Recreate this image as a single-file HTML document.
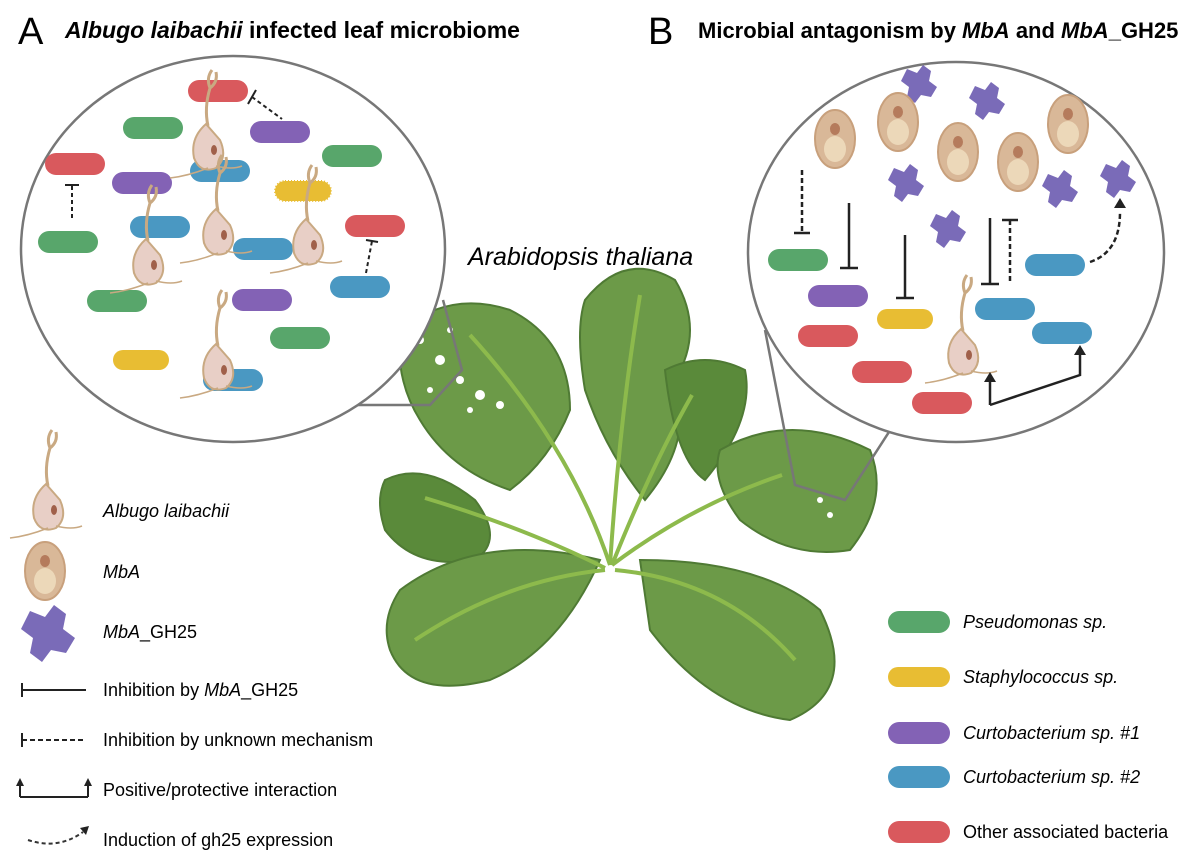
<!DOCTYPE html>
<html><head><meta charset="utf-8"><style>
body{margin:0;background:#fff;width:1200px;height:866px;overflow:hidden;font-family:"Liberation Sans",sans-serif}
svg{position:absolute;left:0;top:0}
</style></head><body>
<svg width="1200" height="866" viewBox="0 0 1200 866" xmlns="http://www.w3.org/2000/svg" font-family="Liberation Sans, sans-serif">
<defs>
<g id="bac"><rect x="0" y="0" width="60" height="22" rx="11" /></g>
<g id="alb">
<path d="M0,-62 q-4,-10 2,-18 M0,-62 q8,-6 6,-16 M0,-62 q-6,20 -2,38" stroke="#c9a982" stroke-width="3" fill="none"/>
<path d="M-4,-26 q-16,14 -12,34 q6,16 22,10 q12,-10 4,-28 z" fill="#e8cfc6" stroke="#c9a982" stroke-width="2"/>
<ellipse cx="4" cy="0" rx="3" ry="5" fill="#a0604a"/>
<path d="M-2,18 q-20,8 -38,10 M6,16 q16,4 26,0" stroke="#c9a982" stroke-width="1.5" fill="none"/>
</g>
<g id="mba"><ellipse cx="0" cy="0" rx="20" ry="29" fill="#d9b898" stroke="#c8a07c" stroke-width="2"/><ellipse cx="0" cy="10" rx="11" ry="13" fill="#ecd8b9"/><ellipse cx="0" cy="-10" rx="5" ry="6" fill="#b57b5c"/></g>
<g id="gh"><path d="M-12,-14 l10,4 l6,-8 l8,6 l-2,10 l8,6 l-6,10 l-10,-2 l-6,8 l-8,-6 l2,-10 l-8,-6 z" fill="#7a6bb8"/></g>
</defs>

<!-- titles -->
<text x="18" y="44" font-size="38">A</text>
<text x="65" y="38" font-size="23" font-weight="bold"><tspan font-style="italic">Albugo laibachii</tspan> infected leaf microbiome</text>
<text x="648" y="44" font-size="38">B</text>
<text x="698" y="38" font-size="22" font-weight="bold">Microbial antagonism by <tspan font-style="italic">MbA</tspan> and <tspan font-style="italic">MbA</tspan>_GH25</text>
<text x="468" y="265" font-size="25" font-style="italic">Arabidopsis thaliana</text>

<!-- plant -->
<g fill="#6c9a48" stroke="#4f7a34" stroke-width="2">
<path d="M400,330 q50,-40 110,-20 q60,30 60,100 q-20,50 -60,80 q-60,-20 -90,-70 q-25,-40 -20,-90 z"/>
<path d="M585,300 q40,-50 90,-20 q30,50 0,100 q20,60 -30,120 q-40,-50 -60,-110 q-10,-60 0,-90 z"/>
<path d="M665,370 q40,-20 80,0 q10,50 -40,110 q-30,-20 -40,-110 z" fill="#5a8a3a"/>
<path d="M720,450 q70,-40 150,0 q20,50 -20,100 q-60,10 -110,-30 q-30,-40 -20,-70 z"/>
<path d="M385,480 q40,-20 90,20 q30,40 0,60 q-60,10 -90,-30 q-10,-30 0,-50 z" fill="#5a8a3a"/>
<path d="M400,590 q80,-60 200,-30 q-40,90 -110,120 q-80,20 -100,-30 q-10,-30 10,-60 z"/>
<path d="M640,560 q120,0 180,50 q40,80 -30,110 q-80,-10 -140,-90 z"/>
</g>
<g stroke="#8dba4c" stroke-width="4" fill="none">
<path d="M610,565 q-40,-120 -140,-230"/><path d="M610,565 q10,-150 30,-270"/><path d="M612,565 q40,-100 80,-170"/>
<path d="M612,565 q80,-60 170,-90"/><path d="M605,568 q-80,-40 -180,-70"/><path d="M605,570 q-100,10 -190,70"/><path d="M615,570 q110,10 180,90"/>
</g>
<g fill="#fff"><circle cx="420" cy="340" r="4"/><circle cx="440" cy="360" r="5"/><circle cx="460" cy="380" r="4"/><circle cx="480" cy="395" r="5"/><circle cx="500" cy="405" r="4"/><circle cx="430" cy="390" r="3"/><circle cx="470" cy="410" r="3"/><circle cx="450" cy="330" r="3"/><circle cx="820" cy="500" r="3"/><circle cx="830" cy="515" r="3"/></g>

<!-- zoom lines -->
<g stroke="#777" stroke-width="2.5" fill="none">
<path d="M330,405 L430,405 L462,370 L443,300"/>
<path d="M765,330 L795,485 L845,500 L900,415"/>
</g>

<!-- circle A -->
<ellipse cx="233" cy="249" rx="212" ry="193" fill="#fff" stroke="#777" stroke-width="2.5"/>
<g>
<use href="#bac" x="188" y="80" fill="#d9595d"/>
<use href="#bac" x="123" y="117" fill="#58a66b"/>
<use href="#bac" x="250" y="121" fill="#8362b5"/>
<use href="#bac" x="322" y="145" fill="#58a66b"/>
<use href="#bac" x="45" y="153" fill="#d9595d"/>
<use href="#bac" x="190" y="160" fill="#4a98c2"/>
<use href="#bac" x="112" y="172" fill="#8362b5"/>
<use href="#bac" x="130" y="216" fill="#4a98c2"/>
<use href="#bac" x="38" y="231" fill="#58a66b"/>
<use href="#bac" x="233" y="238" fill="#4a98c2"/>
<use href="#bac" x="345" y="215" fill="#d9595d"/>
<use href="#bac" x="330" y="276" fill="#4a98c2"/>
<use href="#bac" x="87" y="290" fill="#58a66b"/>
<use href="#bac" x="232" y="289" fill="#8362b5"/>
<use href="#bac" x="270" y="327" fill="#58a66b"/>
<use href="#bac" x="203" y="369" fill="#4a98c2"/>
<rect x="275" y="181" width="56" height="20" rx="10" fill="#e8bd33" stroke="#e8bd33" stroke-width="2" stroke-dasharray="1 2"/>
<rect x="113" y="350" width="56" height="20" rx="10" fill="#e8bd33"/>
<use href="#alb" x="210" y="150"/><use href="#alb" x="150" y="265"/><use href="#alb" x="220" y="235"/><use href="#alb" x="310" y="245"/><use href="#alb" x="220" y="370"/>
</g>
<g stroke="#222" stroke-width="2" fill="none">
<path d="M72,186 v35" stroke-dasharray="4 3"/><path d="M65,185 h14"/>
<path d="M252,97 l30,22" stroke-dasharray="4 3"/><path d="M248,104 l8,-14"/>
<path d="M366,273 l6,-32" stroke-dasharray="4 3"/><path d="M366,240 l12,2"/>
</g>

<!-- circle B -->
<ellipse cx="956" cy="252" rx="208" ry="190" fill="#fff" stroke="#777" stroke-width="2.5"/>
<use href="#gh" x="919" y="83"/><use href="#gh" x="987" y="100"/><use href="#gh" x="906" y="182"/><use href="#gh" x="1060" y="188"/><use href="#gh" x="1118" y="178"/><use href="#gh" x="948" y="228"/>
<use href="#mba" x="835" y="139"/><use href="#mba" x="898" y="122"/><use href="#mba" x="958" y="152"/><use href="#mba" x="1018" y="162"/><use href="#mba" x="1068" y="124"/>
<use href="#bac" x="768" y="249" fill="#58a66b"/>
<use href="#bac" x="808" y="285" fill="#8362b5"/>
<use href="#bac" x="798" y="325" fill="#d9595d"/>
<use href="#bac" x="852" y="361" fill="#d9595d"/>
<use href="#bac" x="912" y="392" fill="#d9595d"/>
<use href="#bac" x="975" y="298" fill="#4a98c2"/>
<use href="#bac" x="1032" y="322" fill="#4a98c2"/>
<use href="#bac" x="1025" y="254" fill="#4a98c2"/>
<rect x="877" y="309" width="56" height="20" rx="10" fill="#e8bd33"/>
<use href="#alb" x="965" y="355"/>
<g stroke="#222" stroke-width="2.5" fill="none">
<path d="M802,170 v62" stroke-dasharray="5 3"/><path d="M794,233 h16"/>
<path d="M849,203 v65"/><path d="M840,268 h18"/>
<path d="M905,235 v63"/><path d="M896,298 h18"/>
<path d="M990,218 v65"/><path d="M981,284 h18"/>
<path d="M1010,220 v62" stroke-dasharray="5 3"/><path d="M1002,220 h16"/>
<path d="M1090,262 q30,-10 30,-50" stroke-dasharray="5 3"/>
<path d="M990,405 l90,-30 v-20"/><path d="M990,405 v-25"/>
</g>
<path d="M1114,208 l6,-10 l6,10z M1074,355 l6,-10 l6,10z M984,382 l6,-10 l6,10z" fill="#222"/>

<!-- left legend -->
<use href="#alb" x="50" y="510"/>
<text x="103" y="517" font-size="18" font-style="italic">Albugo laibachii</text>
<use href="#mba" x="45" y="571"/>
<text x="103" y="578" font-size="18" font-style="italic">MbA</text>
<use href="#gh" x="48" y="632" transform="translate(48,632) scale(1.5) translate(-48,-632)"/>
<text x="103" y="638" font-size="18"><tspan font-style="italic">MbA</tspan>_GH25</text>
<g stroke="#222" stroke-width="2"><path d="M22,683 v14 M22,690 h64"/><path d="M22,733 v14"/><path d="M22,740 h64" stroke-dasharray="5 3"/>
<path d="M20,797 h68 M20,797 v-12 M88,797 v-12" fill="none"/></g>
<path d="M16,786 l4,-8 l4,8z M84,786 l4,-8 l4,8z" fill="#222"/>
<text x="103" y="696" font-size="18">Inhibition by <tspan font-style="italic">MbA</tspan>_GH25</text>
<text x="103" y="746" font-size="18">Inhibition by unknown mechanism</text>
<text x="103" y="796" font-size="18">Positive/protective interaction</text>
<path d="M28,840 q30,10 55,-8" stroke="#333" stroke-width="2" fill="none" stroke-dasharray="4 3"/>
<path d="M80,828 l9,-2 l-3,9z" fill="#222"/>
<text x="103" y="846" font-size="18">Induction of gh25 expression</text>

<!-- right legend -->
<rect x="888" y="611" width="62" height="22" rx="11" fill="#58a66b"/>
<rect x="888" y="667" width="62" height="20" rx="10" fill="#e8bd33"/>
<rect x="888" y="722" width="62" height="22" rx="11" fill="#8362b5"/>
<rect x="888" y="766" width="62" height="22" rx="11" fill="#4a98c2"/>
<rect x="888" y="821" width="62" height="22" rx="11" fill="#d9595d"/>
<g font-size="18"><text x="963" y="628" font-style="italic">Pseudomonas sp.</text>
<text x="963" y="683" font-style="italic">Staphylococcus sp.</text>
<text x="963" y="739" font-style="italic">Curtobacterium sp. #1</text>
<text x="963" y="783" font-style="italic">Curtobacterium sp. #2</text>
<text x="963" y="838">Other associated bacteria</text></g>
</svg>
</body></html>
